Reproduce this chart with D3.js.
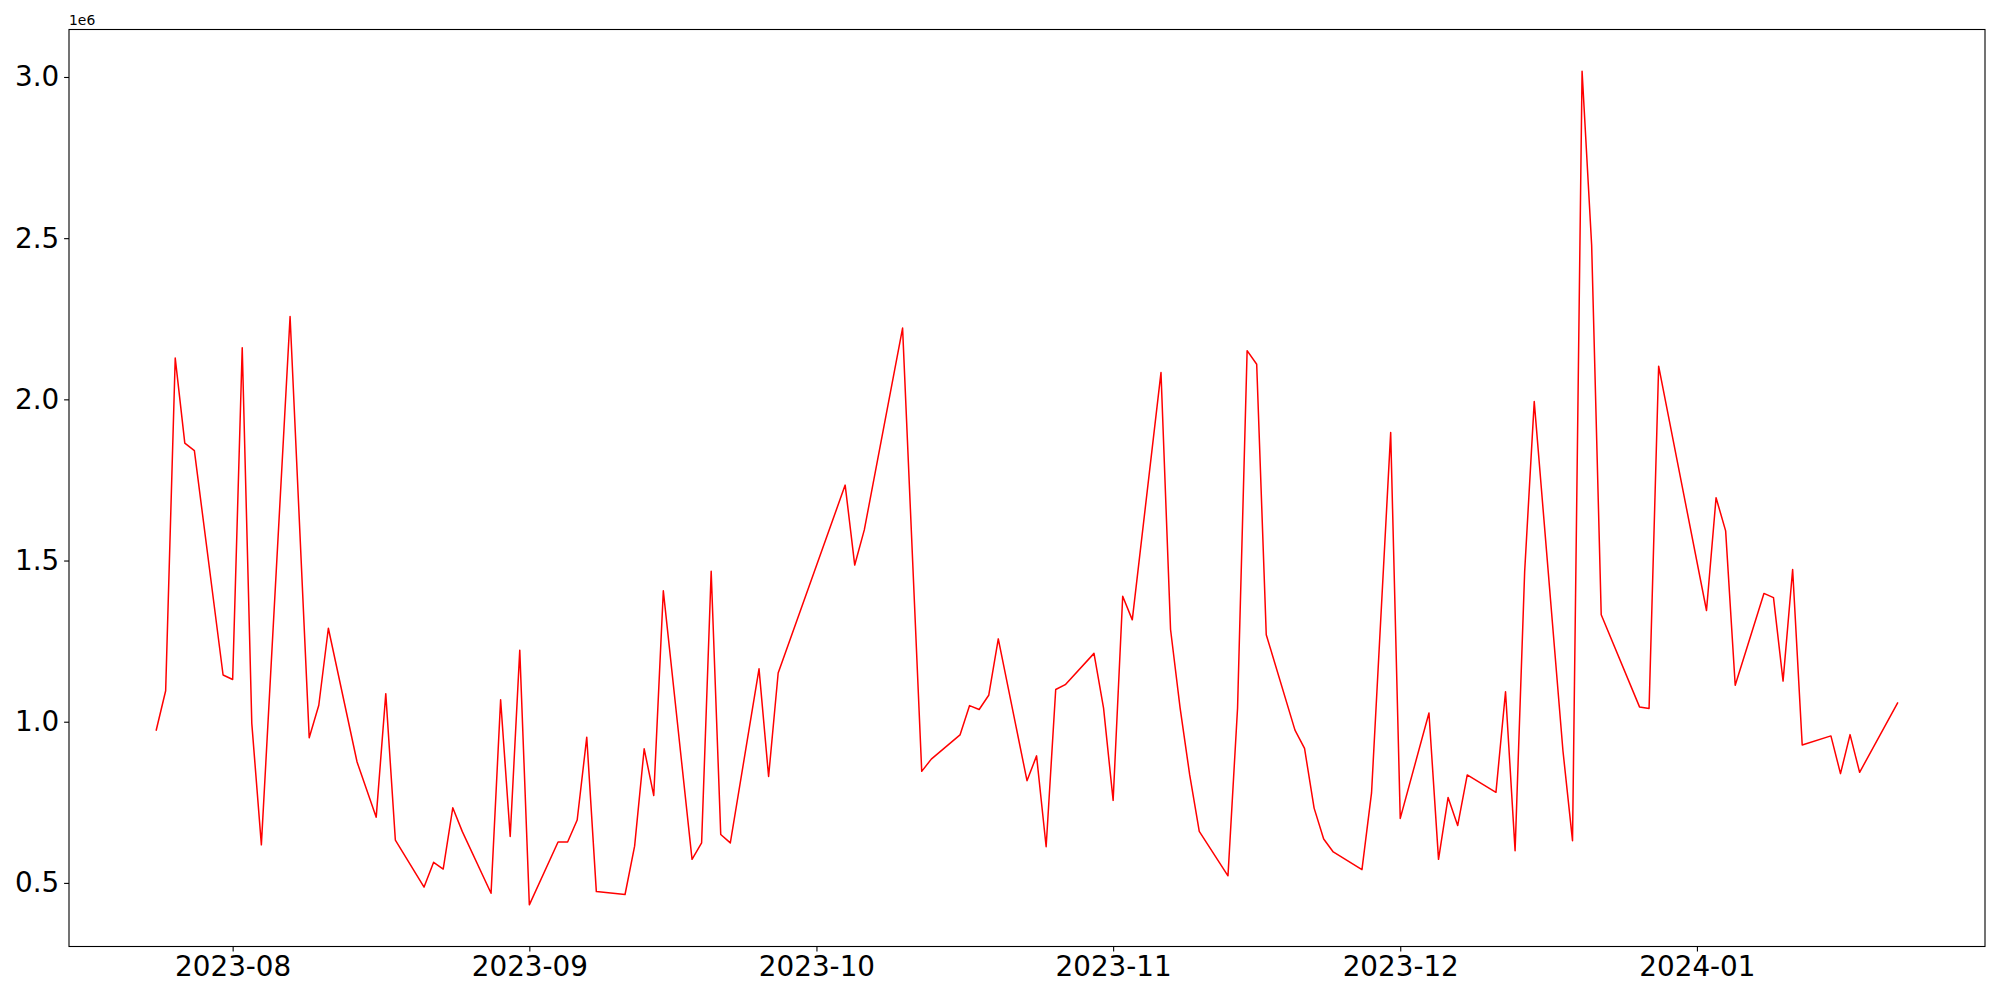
<!DOCTYPE html>
<html>
<head>
<meta charset="utf-8">
<script src="https://cdn.jsdelivr.net/npm/d3@7"></script>
<style>
  html, body { margin: 0; padding: 0; background: #fff; }
  svg { display: block; }
  text { font-family: "DejaVu Sans", sans-serif; fill: #000; }
</style>
</head>
<body>
<svg id="chart" width="2000" height="1000"></svg>
<script>
// ---- data (values in units of 1e6) ----
const dates = [
  "2023-07-24","2023-07-25","2023-07-26","2023-07-27","2023-07-28","2023-07-31",
  "2023-08-01","2023-08-02","2023-08-03","2023-08-04","2023-08-07","2023-08-09",
  "2023-08-10","2023-08-11","2023-08-14","2023-08-16","2023-08-17","2023-08-18",
  "2023-08-21","2023-08-22","2023-08-23","2023-08-24","2023-08-25","2023-08-28",
  "2023-08-29","2023-08-30","2023-08-31","2023-09-01","2023-09-04","2023-09-05",
  "2023-09-06","2023-09-07","2023-09-08","2023-09-11","2023-09-12","2023-09-13",
  "2023-09-14","2023-09-15","2023-09-18","2023-09-19","2023-09-20","2023-09-21",
  "2023-09-22","2023-09-25","2023-09-26","2023-09-27","2023-10-04","2023-10-05",
  "2023-10-06","2023-10-10","2023-10-12","2023-10-13","2023-10-16","2023-10-17",
  "2023-10-18","2023-10-19","2023-10-20","2023-10-23","2023-10-24","2023-10-25",
  "2023-10-26","2023-10-27","2023-10-30","2023-10-31","2023-11-01","2023-11-02",
  "2023-11-03","2023-11-06","2023-11-07","2023-11-08","2023-11-09","2023-11-10",
  "2023-11-13","2023-11-14","2023-11-15","2023-11-16","2023-11-17","2023-11-20",
  "2023-11-21","2023-11-22","2023-11-23","2023-11-24","2023-11-27","2023-11-28",
  "2023-11-30","2023-12-01","2023-12-04","2023-12-05","2023-12-06","2023-12-07",
  "2023-12-08","2023-12-11","2023-12-12","2023-12-13","2023-12-14","2023-12-15",
  "2023-12-18","2023-12-19","2023-12-20","2023-12-21","2023-12-22","2023-12-26",
  "2023-12-27","2023-12-28","2024-01-02","2024-01-03","2024-01-04","2024-01-05",
  "2024-01-08","2024-01-09","2024-01-10","2024-01-11","2024-01-12","2024-01-15",
  "2024-01-16","2024-01-17","2024-01-18","2024-01-22"
];
const values = [
  0.972, 1.096, 2.128, 1.864, 1.841, 1.145,
  1.131, 2.160, 0.995, 0.618, 2.257, 0.950,
  1.051, 1.290, 0.875, 0.704, 1.087, 0.633,
  0.487, 0.564, 0.543, 0.733, 0.659, 0.468,
  1.068, 0.644, 1.222, 0.432, 0.627, 0.627,
  0.695, 0.952, 0.473, 0.464, 0.614, 0.916,
  0.771, 1.406, 0.573, 0.624, 1.467, 0.650,
  0.624, 1.164, 0.830, 1.151, 1.734, 1.486,
  1.595, 2.221, 0.846, 0.884, 0.959, 1.050,
  1.038, 1.082, 1.257, 0.817, 0.894, 0.612,
  1.100, 1.115, 1.212, 1.042, 0.756, 1.389,
  1.316, 2.083, 1.286, 1.042, 0.835, 0.660,
  0.522, 1.042, 2.151, 2.109, 1.270, 0.974,
  0.917, 0.732, 0.636, 0.596, 0.541, 0.779,
  1.897, 0.700, 1.027, 0.573, 0.765, 0.678,
  0.835, 0.781, 1.093, 0.600, 1.466, 1.993,
  0.910, 0.631, 3.018, 2.478, 1.332, 1.046,
  1.041, 2.103, 1.345, 1.695, 1.592, 1.113,
  1.398, 1.385, 1.126, 1.472, 0.928, 0.956,
  0.839, 0.960, 0.843, 1.060
].map(v => v * 1e6);

const xTickDates = ["2023-08-01","2023-09-01","2023-10-01","2023-11-01","2023-12-01","2024-01-01"];
const yTicks = [0.5e6, 1.0e6, 1.5e6, 2.0e6, 2.5e6, 3.0e6];
const offsetLabel = "1e6";

// ---- layout ----
const W = 2000, H = 1000;
const plot = { left: 69, right: 1985, top: 29.5, bottom: 946.5 };
const parse = d3.utcParse("%Y-%m-%d");
const data = dates.map((d, i) => ({ date: parse(d), value: values[i] }));

const svg = d3.select("#chart");
svg.append("rect").attr("width", W).attr("height", H).attr("fill", "#fff");

// matplotlib-style 5% margins
const xExt = d3.extent(data, d => +d.date);
const xPad = (xExt[1] - xExt[0]) * 0.05;
const yExt = d3.extent(data, d => d.value);
const yPad = (yExt[1] - yExt[0]) * 0.05;

const x = d3.scaleUtc()
  .domain([new Date(xExt[0] - xPad), new Date(xExt[1] + xPad)])
  .range([plot.left, plot.right]);
const y = d3.scaleLinear()
  .domain([yExt[0] - yPad, yExt[1] + yPad])
  .range([plot.bottom, plot.top]);

const fontPx = 27.8;
const tickLen = 4.9, tickPad = 4.9;

// x axis
const xAxis = d3.axisBottom(x)
  .tickValues(xTickDates.map(parse))
  .tickFormat(d3.utcFormat("%Y-%m"))
  .tickSize(tickLen).tickPadding(tickPad);
const gx = svg.append("g").attr("transform", `translate(0,${plot.bottom})`).call(xAxis);
gx.select(".domain").remove();
gx.selectAll("line").attr("stroke", "#000").attr("stroke-width", 1.1);
gx.selectAll("text").attr("font-size", fontPx).attr("font-family", "DejaVu Sans").attr("fill", "#000");

// y axis
const yAxis = d3.axisLeft(y)
  .tickValues(yTicks)
  .tickFormat(v => (v / 1e6).toFixed(1))
  .tickSize(tickLen).tickPadding(tickPad);
const gy = svg.append("g").attr("transform", `translate(${plot.left},0)`).call(yAxis);
gy.select(".domain").remove();
gy.selectAll("line").attr("stroke", "#000").attr("stroke-width", 1.1);
gy.selectAll("text").attr("font-size", fontPx).attr("font-family", "DejaVu Sans").attr("fill", "#000");

// offset text
svg.append("text")
  .attr("x", plot.left).attr("y", plot.top - 5)
  .attr("font-size", 13.9)
  .text(offsetLabel);

// line
const line = d3.line().x(d => x(d.date)).y(d => y(d.value));
svg.append("path")
  .datum(data)
  .attr("fill", "none")
  .attr("stroke", "#ff0000")
  .attr("stroke-width", 1.5)
  .attr("stroke-linejoin", "round")
  .attr("d", line);

// frame
svg.append("rect")
  .attr("x", plot.left).attr("y", plot.top)
  .attr("width", plot.right - plot.left).attr("height", plot.bottom - plot.top)
  .attr("fill", "none").attr("stroke", "#000").attr("stroke-width", 1.1);
</script>
</body>
</html>
